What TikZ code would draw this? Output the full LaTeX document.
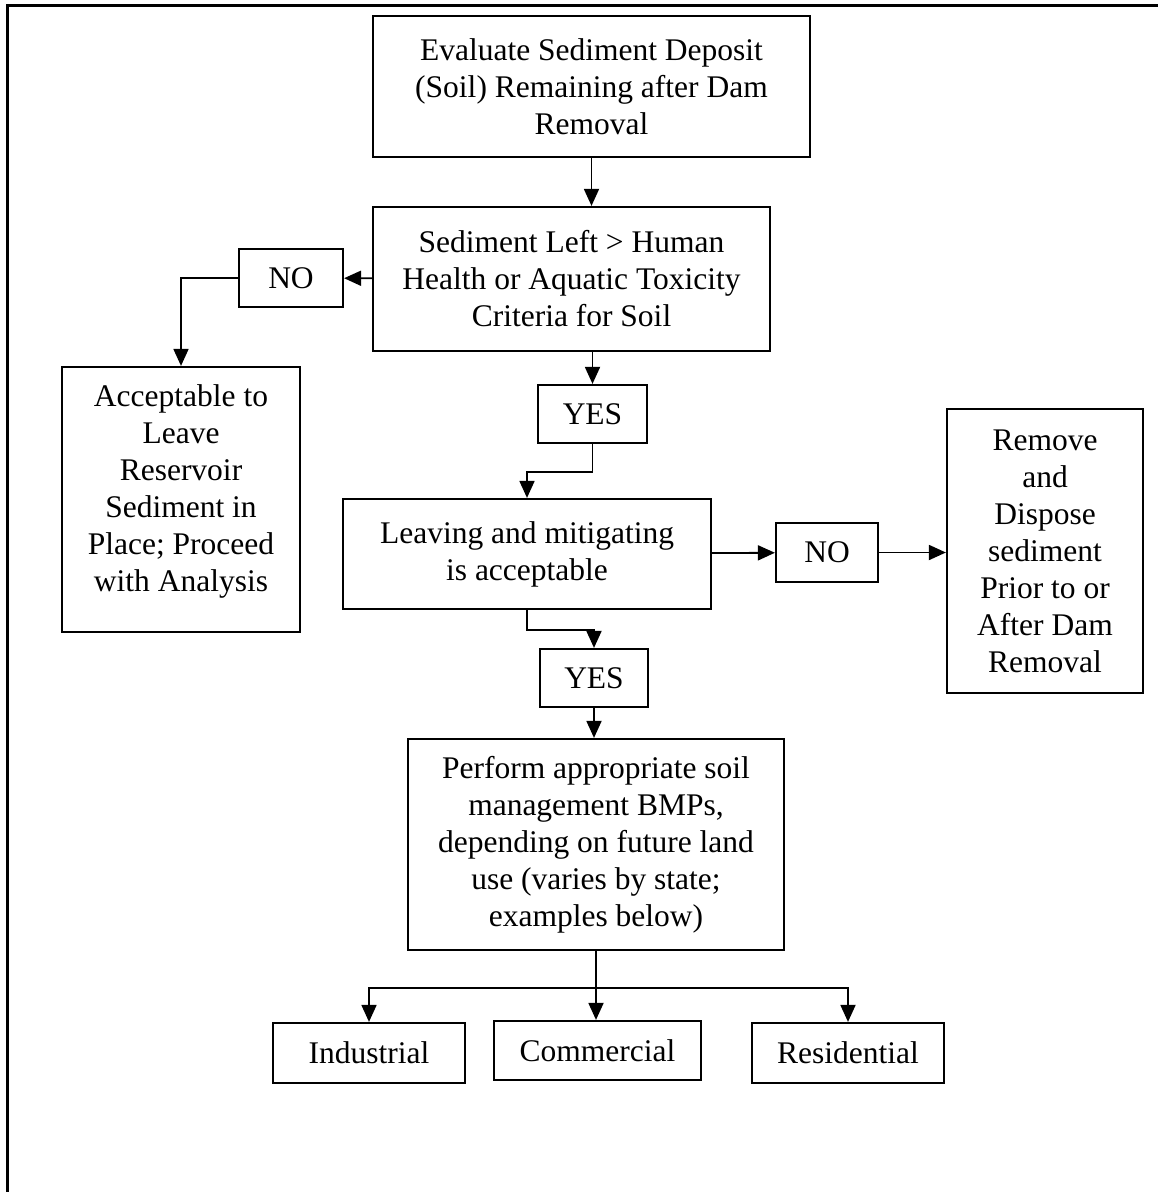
\documentclass[tikz,border=0pt]{standalone}
\usepackage{fontspec}
\setmainfont{Liberation Serif}
\usetikzlibrary{arrows.meta}

\begin{document}
\begin{tikzpicture}[x=1pt, y=-1pt,
	box/.style={draw, line width=2.2pt, inner sep=0pt, align=center, font=\fontsize{31.5}{37}\selectfont},
	arr/.style={line width=1.8pt, -{Triangle[length=17pt, width=15pt]}}]
	\clip (0,0) rectangle (1158,1192);
	\draw[line width=3pt] (7.5,5) rectangle (1180,1220);
	
	\node[box, minimum width=437pt, minimum height=141pt] (eval) at (591.5,86.5) {Evaluate Sediment Deposit\\(Soil) Remaining after Dam\\Removal};
	\node[box, minimum width=397pt, minimum height=144pt] (crit) at (571.5,279) {Sediment Left > Human\\Health or Aquatic Toxicity\\Criteria for Soil};
	\node[box, minimum width=104pt, minimum height=58pt] (no1) at (291,278) {NO};
	\node[box, minimum width=238pt, minimum height=265pt, text depth=23pt] (accept) at (181,499.5) {Acceptable to\\Leave\\Reservoir\\Sediment in\\Place; Proceed\\with Analysis};
	\node[box, minimum width=109pt, minimum height=58pt] (yes1) at (592.5,414) {YES};
	\node[box, minimum width=368pt, minimum height=110pt] (leave) at (527,554) {Leaving and mitigating\\is acceptable};
	\node[box, minimum width=102pt, minimum height=59pt] (no2) at (827,552.5) {NO};
	\node[box, minimum width=196pt, minimum height=284pt] (remove) at (1045,551) {Remove\\and\\Dispose\\sediment\\Prior to or\\After Dam\\Removal};
	\node[box, minimum width=108pt, minimum height=58pt] (yes2) at (594,678) {YES};
	\node[box, minimum width=376pt, minimum height=211pt] (perform) at (596,844.5) {Perform appropriate soil\\management BMPs,\\depending on future land\\use (varies by state;\\examples below)};
	\node[box, minimum width=192pt, minimum height=60pt] (ind) at (369,1053) {Industrial};
	\node[box, minimum width=207pt, minimum height=59pt] (com) at (597.5,1050.5) {Commercial};
	\node[box, minimum width=192pt, minimum height=60pt] (res) at (848,1053) {Residential};
	\coordinate (split) at (perform.south |- 0,988);
	
	\draw[arr] (eval) -- (eval |- crit.north);
	\draw[arr] (crit) -- (no1);
	\draw[arr] (no1) -| (accept);
	\draw[arr] (crit.south -| yes1) -- (yes1);
	\draw[arr] (yes1.south) -- ++(0,28) -| (leave.north);
	\draw[arr] (leave) -- (no2);
	\draw[arr] (no2) -- (no2 -| remove.west);
	\draw[arr] (leave.south) -- ++(0,20) -| (yes2.north);
	\draw[arr] (yes2) -- (yes2 |- perform.north);
	\draw[line width=1.8pt] (perform) -- (split);
	\draw[arr] (split) -| (ind);
	\draw[arr] (split) -- (split |- com.north);
	\draw[arr] (split) -| (res);
\end{tikzpicture}
\end{document}
